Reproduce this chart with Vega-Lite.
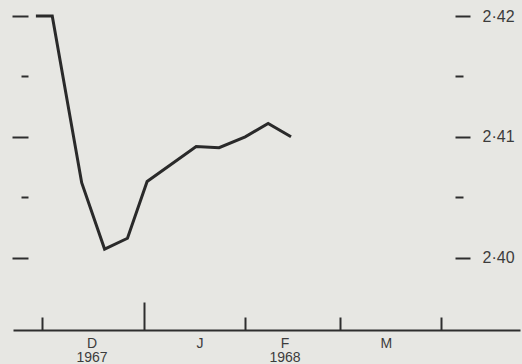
{
  "$schema": "https://vega.github.io/schema/vega-lite/v6.json",
  "width": 507,
  "height": 326,
  "autosize": "none",
  "padding": {"left": 13, "top": 4, "right": 2, "bottom": 34},
  "background": "#e7e7e3",
  "config": {
    "view": {"stroke": null},
    "axis": {
      "labelFont": "Liberation Sans",
      "labelColor": "#3c3c3c",
      "labelFontSize": 16,
      "tickColor": "#2e2e2e",
      "domainColor": "#2e2e2e",
      "grid": false
    }
  },
  "data": {
    "values": [
      {"date": "1967-11-29", "rate": 2.4200},
      {"date": "1967-12-04", "rate": 2.4200},
      {"date": "1967-12-13", "rate": 2.4062},
      {"date": "1967-12-20", "rate": 2.4007},
      {"date": "1967-12-27", "rate": 2.4016},
      {"date": "1968-01-02", "rate": 2.4063},
      {"date": "1968-01-17", "rate": 2.4092},
      {"date": "1968-01-24", "rate": 2.4091},
      {"date": "1968-02-01", "rate": 2.4100},
      {"date": "1968-02-08", "rate": 2.4111},
      {"date": "1968-02-15", "rate": 2.4100}
    ]
  },
  "layer": [
    {
      "mark": {"type": "line", "color": "#2a2a2a", "strokeWidth": 3, "strokeJoin": "miter"},
      "encoding": {
        "x": {
          "field": "date",
          "type": "temporal",
          "scale": {
            "type": "utc",
            "domain": [
              {"year": 1967, "month": 11, "date": 22, "utc": true},
              {"year": 1968, "month": 4, "date": 25, "utc": true}
            ]
          },
          "axis": {
            "title": null,
            "values": [
              {"year": 1967, "month": 12, "date": 1, "utc": true},
              {"year": 1967, "month": 12, "date": 16, "utc": true},
              {"year": 1968, "month": 1, "date": 1, "utc": true},
              {"year": 1968, "month": 1, "date": 18, "utc": true},
              {"year": 1968, "month": 2, "date": 1, "utc": true},
              {"year": 1968, "month": 2, "date": 13, "utc": true},
              {"year": 1968, "month": 3, "date": 1, "utc": true},
              {"year": 1968, "month": 3, "date": 15, "utc": true},
              {"year": 1968, "month": 4, "date": 1, "utc": true}
            ],
            "domainWidth": 2,
            "tickWidth": 2,
            "tickSize": {"condition": {"test": "utcmonth(datum.value)==0 && utcdate(datum.value)==1", "value": -28}, "value": -13},
            "tickOpacity": {"condition": {"test": "utcdate(datum.value)!=1", "value": 0}, "value": 1},
            "labelExpr": "utcdate(datum.value)==1 ? '' : utcmonth(datum.value)==11 ? ['D','1967'] : utcmonth(datum.value)==0 ? 'J' : utcmonth(datum.value)==1 ? ['F','1968'] : 'M'",
            "labelFontSize": 14,
            "labelBaseline": "top",
            "labelPadding": 19,
            "labelLineHeight": 14.5,
            "labelFlush": false,
            "labelOverlap": false,
            "labelAngle": 0
          }
        },
        "y": {
          "field": "rate",
          "type": "quantitative",
          "scale": {"domain": [2.394, 2.421], "zero": false, "nice": false},
          "axis": {
            "title": null,
            "orient": "left",
            "values": [2.40, 2.405, 2.41, 2.415, 2.42],
            "format": ".3f",
            "domain": false,
            "labels": false,
            "offset": -15,
            "tickWidth": 2,
            "tickSize": {"condition": {"test": "slice(format(datum.value,'.3f'),-1)=='5'", "value": 7}, "value": 16}
          }
        }
      }
    },
    {
      "mark": {"type": "line", "strokeOpacity": 0},
      "encoding": {
        "x": {"field": "date", "type": "temporal"},
        "y": {
          "field": "rate",
          "type": "quantitative",
          "axis": {
            "title": null,
            "orient": "right",
            "values": [2.40, 2.405, 2.41, 2.415, 2.42],
            "format": ".3f",
            "domain": false,
            "offset": -65,
            "tickWidth": 2,
            "tickSize": {"condition": {"test": "slice(format(datum.value,'.3f'),-1)=='5'", "value": 8}, "value": 15},
            "labelPadding": 12,
            "labelExpr": "slice(datum.label,-1)=='5' ? '' : replace(slice(datum.label,0,4),'.','·')"
          }
        }
      }
    }
  ],
  "resolve": {"axis": {"y": "independent"}}
}
